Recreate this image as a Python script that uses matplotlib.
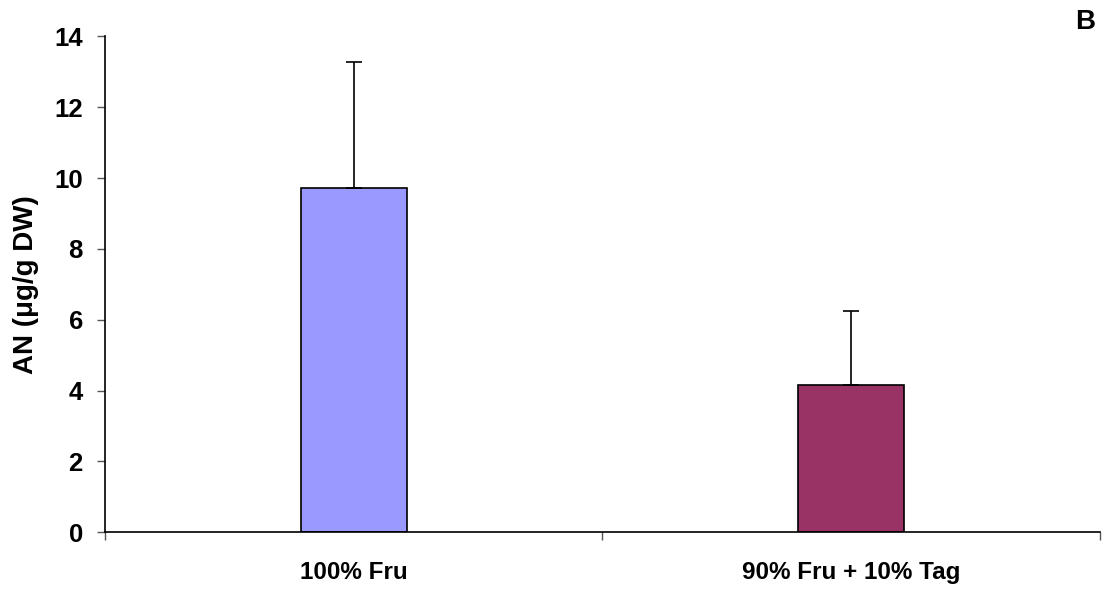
import matplotlib
matplotlib.use("Agg")
import matplotlib.pyplot as plt
import numpy as np

# data
categories = ["100% Fru", "90% Fru + 10% Tag"]
means = [9.71, 4.16]
errors = [3.56, 2.08]
bar_colors = ["#9999FF", "#993366"]
y_ticks = [0, 2, 4, 6, 8, 10, 12, 14]

plt.rcParams["font.family"] = ["Liberation Sans", "DejaVu Sans"]
plt.rcParams["font.weight"] = "bold"

fig = plt.figure(figsize=(11.02, 5.9), dpi=100)
ax = fig.add_axes([0.0953, 0.0978, 0.9027, 0.8405])

x = np.arange(len(categories))
ax.bar(x, means, width=0.213, color=bar_colors, edgecolor="black", linewidth=1.2, zorder=2)
# upper error bars only
ax.errorbar(x, means, yerr=[np.zeros(len(errors)), errors], fmt="none",
            ecolor="black", elinewidth=1.2, capsize=6, capthick=1.2, zorder=3)

ax.set_xlim(-0.5, len(categories) - 0.5)
ax.set_ylim(0, 14)
ax.set_yticks(y_ticks)
ax.set_yticklabels([str(t) for t in y_ticks], fontsize=18.5, fontweight="bold")
ax.set_xticks(x)
ax.set_xticklabels(categories, fontsize=17.5, fontweight="bold")
ax.tick_params(axis="x", length=0, pad=21)
ax.set_xticks(np.arange(-0.5, len(categories)), minor=True)
ax.tick_params(axis="x", which="minor", length=6, width=1, color="#555555")
ax.tick_params(axis="y", length=6, width=1, color="#555555", pad=10)

for s in ["top", "right"]:
    ax.spines[s].set_visible(False)
for s in ["left", "bottom"]:
    ax.spines[s].set_linewidth(1.2)

ax.set_ylabel("AN (\u03bcg/g DW)", fontsize=20, fontweight="bold", labelpad=11)
fig.text(0.985, 0.962, "B", fontsize=20, fontweight="bold", ha="center", va="center")

fig.savefig("out.png", dpi=100)
